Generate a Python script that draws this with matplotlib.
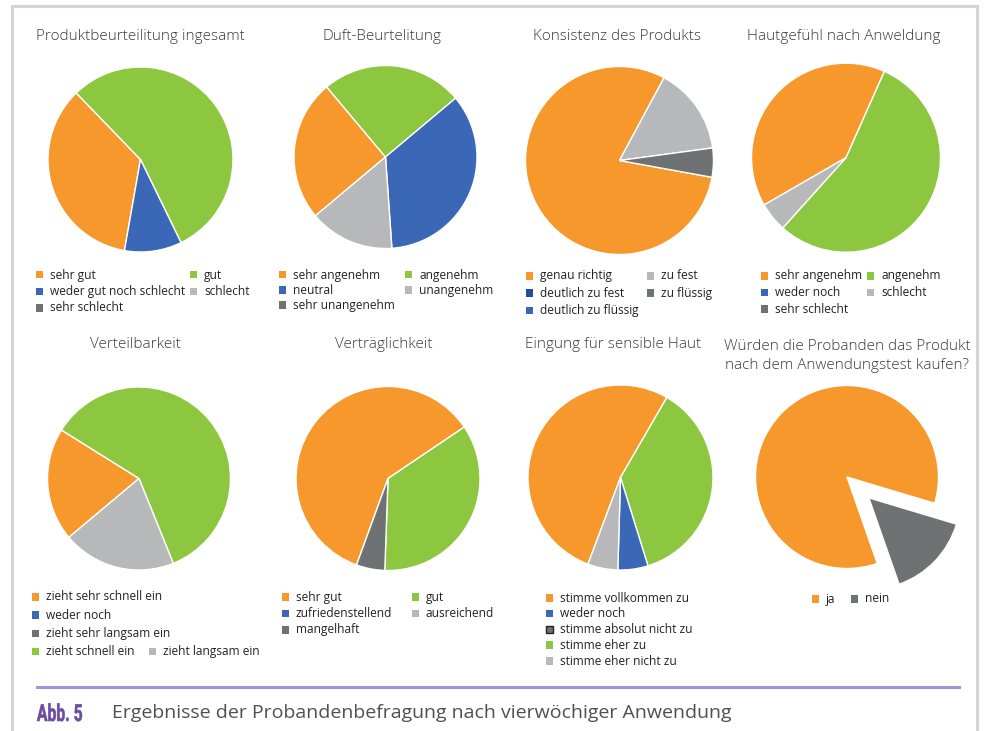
import matplotlib
matplotlib.use("Agg")
import matplotlib.pyplot as plt
from matplotlib.patches import Rectangle, PathPatch
from matplotlib.lines import Line2D
from matplotlib.textpath import TextPath
from matplotlib.font_manager import FontProperties
from matplotlib.transforms import Affine2D, IdentityTransform

# Farben
orange = "#f7982c"
gruen = "#8dc63f"
blau = "#3a67b6"
dblau = "#1f4e9c"
hgrau = "#b6b8b9"
dgrau = "#6f7272"

# --- Daten (Anzahl Probanden je Antwort, in Zeichenreihenfolge der Stuecke) ---
titel = ["Produktbeurteilitung ingesamt", "Duft-Beurtelitung", "Konsistenz des Produkts",
         "Hautgefühl nach Anweldung", "Verteilbarkeit", "Verträglichkeit",
         "Eingung für sensible Haut",
         "Würden die Probanden das Produkt\nnach dem Anwendungstest kaufen?"]

lab1 = ["sehr gut", "gut", "weder gut noch schlecht", "schlecht", "sehr schlecht"]
val1 = [7, 11, 2, 0, 0]
col1 = [orange, gruen, blau, hgrau, dgrau]

lab2 = ["sehr angenehm", "angenehm", "neutral", "unangenehm", "sehr unangenehm"]
val2 = [5, 5, 7, 3, 0]
col2 = [orange, gruen, blau, hgrau, dgrau]

lab3 = ["genau richtig", "zu fest", "deutlich zu fest", "zu flüssig", "deutlich zu flüssig"]
val3 = [16, 3, 0, 1, 0]
col3 = [orange, hgrau, dblau, dgrau, blau]

lab4 = ["sehr angenehm", "angenehm", "weder noch", "schlecht", "sehr schlecht"]
val4 = [8, 11, 0, 1, 0]
col4 = [orange, gruen, blau, hgrau, dgrau]

lab5 = ["zieht sehr schnell ein", "weder noch", "zieht sehr langsam ein",
        "zieht schnell ein", "zieht langsam ein"]
val5 = [4, 0, 0, 12, 4]
col5 = [orange, blau, dgrau, gruen, hgrau]

lab6 = ["sehr gut", "gut", "zufriedenstellend", "ausreichend", "mangelhaft"]
val6 = [12, 7, 0, 0, 1]
col6 = [orange, gruen, blau, hgrau, dgrau]

lab7 = ["stimme vollkommen zu", "stimme eher zu", "weder noch",
        "stimme eher nicht zu", "stimme absolut nicht zu"]
val7 = [10, 7, 1, 1, 0]
col7 = [orange, gruen, blau, hgrau, dgrau]

lab8 = ["ja", "nein"]
val8 = [17, 3]
col8 = [orange, dgrau]

W, H = 984, 731
fig = plt.figure(figsize=(W / 100, H / 100), dpi=100)
fig.patch.set_facecolor("white")


def fx(x):
    return x / W


def fy(y):
    return 1 - y / H


def kuchen(cx, cy, r, werte, farben, start, explode=None):
    ax = fig.add_axes([fx(cx - 1.5 * r), fy(cy + 1.5 * r), 3 * r / W, 3 * r / H])
    idx = [i for i, v in enumerate(werte) if v > 0]
    ex = None if explode is None else [explode[i] for i in idx]
    ax.pie([werte[i] for i in idx], colors=[farben[i] for i in idx], startangle=start,
           counterclock=False, explode=ex, radius=1,
           wedgeprops=dict(edgecolor="white", linewidth=1.0))
    ax.set_xlim(-1.5, 1.5)
    ax.set_ylim(-1.5, 1.5)
    ax.axis("off")


def legende(x0, y0, zeilen, labels, farben, dx=None, dy=16.5, rand=None):
    for j, zeile in enumerate(zeilen):
        for k, i in enumerate(zeile):
            x = x0 if k == 0 else x0 + dx
            y = y0 + j * dy
            ec = "#222222" if rand == i else "none"
            fig.add_artist(Rectangle((fx(x - 3.5), fy(y + 3.5)), 7.5 / W, 7.5 / H,
                                     transform=fig.transFigure, facecolor=farben[i],
                                     edgecolor=ec, linewidth=1.0))
            fig.text(fx(x + 11), fy(y), labels[i], fontsize=8.6, color="#222222",
                     va="center", ha="left", family="Open Sans")


def ueberschrift(x, y, text):
    fig.text(fx(x), fy(y), text, fontsize=11, color="#3c3c3c", ha="center",
             va="center", family="Open Sans", fontweight="light", linespacing=1.4)


# Rahmen
fig.add_artist(Rectangle((fx(12), fy(745)), (977 - 12) / W, (745 - 6) / H,
                         transform=fig.transFigure, fill=False, edgecolor="#d4d4d4",
                         linewidth=2.2))

# obere Reihe
kuchen(140.5, 159.5, 92.5, val1, col1, -100)
kuchen(385.5, 157, 91.5, val2, col2, -140)
kuchen(619.5, 160.5, 94, val3, col3, -10.3)
kuchen(846, 157.7, 94.5, val4, col4, -150)

ueberschrift(140, 36, titel[0])
ueberschrift(382, 36, titel[1])
ueberschrift(617, 36, titel[2])
ueberschrift(844, 36, titel[3])

legende(39, 275, [[0, 1], [2, 3], [4]], lab1, col1, dx=154, dy=16.5)
legende(282, 275, [[0, 1], [2, 3], [4]], lab2, col2, dx=126, dy=15.2)
legende(529, 276, [[0, 1], [2, 3], [4]], lab3, col3, dx=121, dy=17.3)
legende(764, 276, [[0, 1], [2, 3], [4]], lab4, col4, dx=106, dy=16.7)

# untere Reihe
kuchen(139, 478.5, 91.5, val5, col5, -140)
kuchen(388, 478.5, 92, val6, col6, -110)
kuchen(620.5, 477.5, 92.5, val7, col7, -110.6)
kuchen(847, 477, 91.5, val8, col8, -70.7, explode=[0, 0.33])

ueberschrift(135, 345, titel[4])
ueberschrift(384, 345, titel[5])
ueberschrift(613, 345, titel[6])
ueberschrift(847, 356, titel[7])

legende(35, 597, [[0], [1], [2], [3, 4]], lab5, col5, dx=117, dy=18.3)
legende(285, 597, [[0, 1], [2, 3], [4]], lab6, col6, dx=130, dy=16.5)
legende(549, 598, [[0], [2], [4], [1], [3]], lab7, col7, dy=15.8, rand=4)
legende(815, 599, [[0, 1]], lab8, col8, dx=39)

# Bildunterschrift
fig.add_artist(Line2D([fx(37), fx(959)], [fy(687), fy(687)], color="#a095d4",
                      linewidth=2.2, transform=fig.transFigure))

# "Abb. 5" schmal (condensed) als Textpfad
tp = TextPath((0, 0), "Abb. 5", size=23.5, prop=FontProperties(family="Roboto", weight="bold"))
ext = tp.get_extents()
sx = 45 / ext.width
tr = Affine2D().translate(-ext.x0, 0).scale(sx, 1.0).translate(37, H - 721)
fig.add_artist(PathPatch(tr.transform_path(tp), facecolor="#6a4ca0", edgecolor="#6a4ca0",
                         linewidth=0.4, transform=IdentityTransform()))

fig.text(fx(112), fy(713), "Ergebnisse der Probandenbefragung nach vierwöchiger Anwendung",
         fontsize=14, color="#505050", va="center", ha="left", family="Open Sans")

fig.savefig("out.png", dpi=100)
